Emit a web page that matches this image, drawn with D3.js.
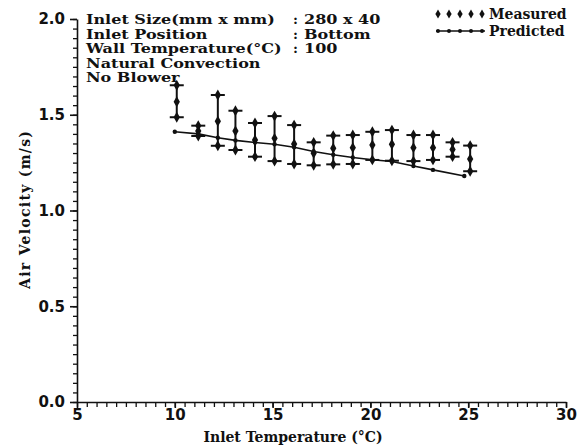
<!DOCTYPE html>
<html>
<head>
<meta charset="utf-8">
<script src="https://cdn.jsdelivr.net/npm/d3@7"></script>
<style>
  html, body { margin: 0; padding: 0; background: #fff; }
  svg { display: block; }
</style>
</head>
<body>
<svg id="chart" width="578" height="446"></svg>
<script>
// ---- data ----
const measX    = [10.1, 11.2, 12.2, 13.1, 14.1, 15.1, 16.1, 17.1, 18.1, 19.1, 20.1, 21.1, 22.2, 23.2, 24.2, 25.1];
const measMean = [1.568, 1.415, 1.466, 1.415, 1.368, 1.377, 1.347, 1.299, 1.325, 1.328, 1.342, 1.346, 1.328, 1.328, 1.319, 1.269];
const measHigh = [1.654, 1.443, 1.603, 1.521, 1.457, 1.493, 1.446, 1.356, 1.391, 1.394, 1.411, 1.420, 1.394, 1.394, 1.356, 1.339];
const measLow  = [1.487, 1.389, 1.338, 1.316, 1.281, 1.258, 1.243, 1.236, 1.241, 1.243, 1.264, 1.260, 1.258, 1.264, 1.281, 1.205];

const predX = [10.0, 11.2, 12.2, 13.1, 14.1, 15.1, 16.1, 17.1, 18.1, 19.1, 20.1, 21.1, 22.2, 23.2, 24.8];
const predY = [1.411, 1.400, 1.380, 1.366, 1.355, 1.346, 1.330, 1.308, 1.291, 1.277, 1.265, 1.256, 1.232, 1.212, 1.180];

const xTicks = [5, 10, 15, 20, 25, 30];
const yTicks = [0.0, 0.5, 1.0, 1.5, 2.0];

const infoLabels = ["Inlet Size(mm x mm)", "Inlet Position", "Wall Temperature(\u00B0C)", "Natural Convection", "No Blower"];
const infoValues = ["280 x 40", "Bottom", "100", "", ""];
const legendLabels = ["Measured", "Predicted"];

const xTitle = "Inlet Temperature (\u00B0C)";
const yTitle = "Air Velocity (m/s)";

// ---- layout ----
const svg = d3.select("#chart");
const x = d3.scaleLinear().domain([5, 30]).range([77, 566]);
const y = d3.scaleLinear().domain([0, 2]).range([402, 19]);
const ink = "#111";
const serif = "'DejaVu Serif', serif";
const sans = "'DejaVu Sans', sans-serif";

// minor ticks
const xMinor = d3.range(5, 30.001, 0.5);
const yMinor = d3.range(0, 2.001, 0.05);

const gx = svg.append("g").attr("transform", `translate(0,${y(0)})`);
gx.call(d3.axisBottom(x).tickValues(xMinor).tickSize(5).tickFormat(""));
gx.call(g => g.select(".domain").remove());
gx.selectAll("line").attr("stroke", ink).attr("stroke-width", 1.3);
svg.append("g").attr("transform", `translate(0,${y(0)})`)
  .call(d3.axisBottom(x).tickValues(xTicks).tickSize(6).tickPadding(1).tickSizeOuter(0).tickFormat(d3.format("d")))
  .call(g => g.selectAll("text").attr("font-family", sans).attr("font-weight", "bold").attr("font-size", 15).attr("fill", ink))
  .call(g => g.selectAll("line, path").attr("stroke", ink).attr("stroke-width", 1.6));

const gy = svg.append("g").attr("transform", `translate(${x(5)},0)`);
gy.call(d3.axisLeft(y).tickValues(yMinor).tickSize(4).tickFormat(""));
gy.call(g => g.select(".domain").remove());
gy.selectAll("line").attr("stroke", ink).attr("stroke-width", 1.3);
svg.append("g").attr("transform", `translate(${x(5)},0)`)
  .call(d3.axisLeft(y).tickValues(yTicks).tickSize(7).tickSizeOuter(0).tickFormat(d3.format(".1f")))
  .call(g => g.selectAll("text").attr("x", -12).attr("font-family", sans).attr("font-weight", "bold").attr("font-size", 15).attr("fill", ink))
  .call(g => g.selectAll("line, path").attr("stroke", ink).attr("stroke-width", 1.6));

// axis titles
svg.append("text").attr("x", 293).attr("y", 442)
  .attr("text-anchor", "middle").attr("font-family", serif).attr("font-weight", "bold")
  .attr("font-size", 14).attr("fill", ink).text(xTitle);
svg.append("text").attr("transform", `translate(30,210) rotate(-90)`)
  .attr("text-anchor", "middle").attr("font-family", serif).attr("font-weight", "bold")
  .attr("font-size", 14).attr("textLength", 158).attr("lengthAdjust", "spacing")
  .attr("fill", ink).text(yTitle);

// info block: measure widths at a wide size, draw at a smaller size stretched to that width
const info = svg.append("g").attr("font-family", serif).attr("font-weight", "bold").attr("fill", ink);
function infoText(px, py, str) {
  const t = info.append("text").attr("x", px).attr("y", py).attr("font-size", 16).text(str);
  const w = t.node().getComputedTextLength();
  t.attr("font-size", 13.5).attr("textLength", w).attr("lengthAdjust", "spacingAndGlyphs");
}
infoLabels.forEach((t, i) => {
  const py = 24 + i * 14.6;
  infoText(86, py, t);
  if (infoValues[i]) {
    info.append("text").attr("x", 293).attr("y", py).attr("font-size", 13.5).text(":");
    infoText(304, py, infoValues[i]);
  }
});

// diamond symbol
const diamond = d3.symbol().type(d3.symbolDiamond).size(34);

// measured error bars
const meas = measX.map((v, i) => ({ x: v, m: measMean[i], hi: measHigh[i], lo: measLow[i] }));
const mg = svg.append("g");
mg.selectAll("line.v").data(meas).join("line")
  .attr("x1", d => x(d.x)).attr("x2", d => x(d.x))
  .attr("y1", d => y(d.hi)).attr("y2", d => y(d.lo))
  .attr("stroke", ink).attr("stroke-width", 2);
["hi", "lo"].forEach(k => {
  mg.selectAll("line.c" + k).data(meas).join("line")
    .attr("x1", d => x(d.x) - 7).attr("x2", d => x(d.x) + 7)
    .attr("y1", d => y(d[k])).attr("y2", d => y(d[k]))
    .attr("stroke", ink).attr("stroke-width", 2);
});
["hi", "m", "lo"].forEach(k => {
  mg.selectAll("path.d" + k).data(meas).join("path")
    .attr("transform", d => `translate(${x(d.x)},${y(d[k])})`)
    .attr("d", diamond).attr("fill", ink);
});

// predicted line
const pred = predX.map((v, i) => ({ x: v, y: predY[i] }));
svg.append("path").datum(pred)
  .attr("d", d3.line().x(d => x(d.x)).y(d => y(d.y)))
  .attr("fill", "none").attr("stroke", ink).attr("stroke-width", 1.6);
svg.append("g").selectAll("circle").data(pred).join("circle")
  .attr("cx", d => x(d.x)).attr("cy", d => y(d.y)).attr("r", 2.2).attr("fill", ink);

// legend
const lg = svg.append("g");
const lgX = d3.range(5).map(i => 438 + i * 11);
const smallDiamond = d3.symbol().type(d3.symbolDiamond).size(24);
lg.selectAll("path").data(lgX).join("path")
  .attr("transform", d => `translate(${d},14)`).attr("d", smallDiamond).attr("fill", ink);
lg.append("line").attr("x1", 436).attr("x2", 485).attr("y1", 31).attr("y2", 31).attr("stroke", ink).attr("stroke-width", 1.6);
lg.selectAll("circle").data(lgX).join("circle")
  .attr("cx", d => d).attr("cy", 31).attr("r", 2).attr("fill", ink);
legendLabels.forEach((t, i) => {
  lg.append("text").attr("x", 489).attr("y", 19 + i * 17)
    .attr("font-family", serif).attr("font-weight", "bold").attr("font-size", 14).attr("fill", ink).text(t);
});
</script>
</body>
</html>
